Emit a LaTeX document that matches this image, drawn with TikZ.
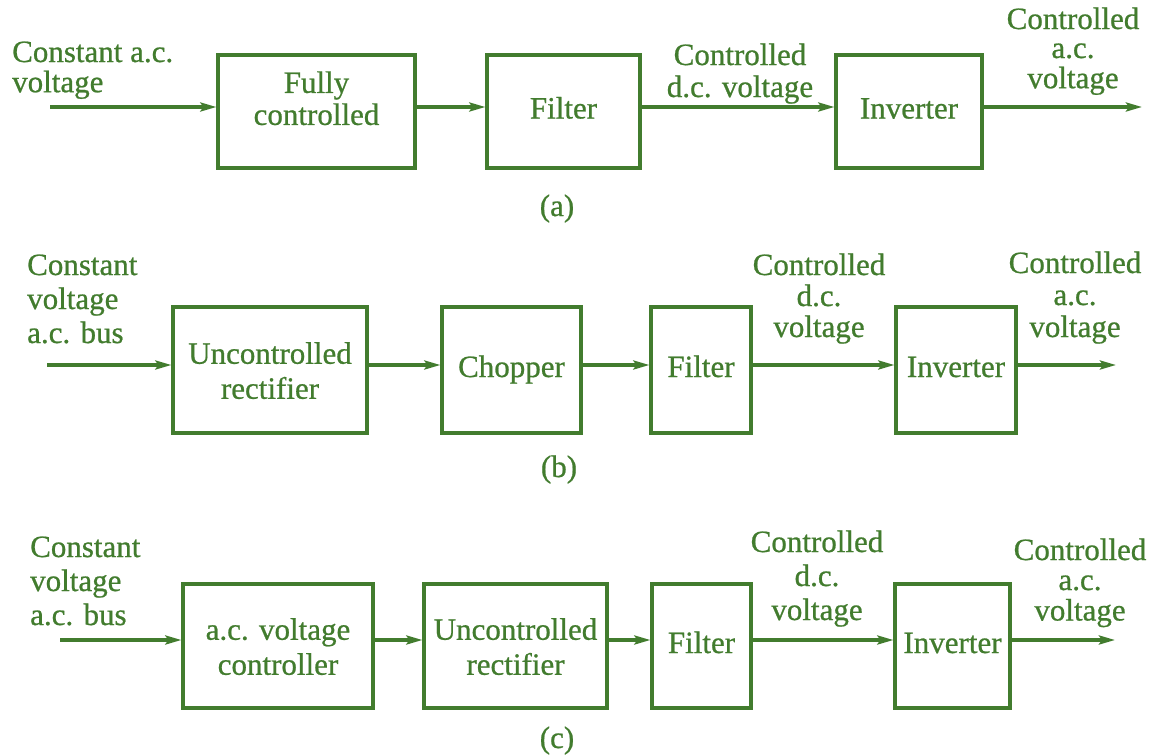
\documentclass[tikz,border=0pt]{standalone}
\usepackage{fontspec}
\setmainfont[FakeBold=0.7]{Liberation Serif}
\usetikzlibrary{arrows.meta}
\definecolor{grn}{RGB}{66,124,46}
\newcommand{\lbl}[3]{\fontsize{31}{#2}\selectfont\begin{tabular}[t]{@{}#1@{}}#3\end{tabular}}
\tikzset{
  blk/.style={draw=grn, line width=3.2pt, inner sep=0pt, text=grn,
              font=\fontsize{31}{35}\selectfont},
  one/.style={text height=21pt, text depth=7pt},
  two/.style={text height=24.5pt, text depth=37pt},
  lab/.style={inner sep=0pt, text=grn, font=\fontsize{31}{35}\selectfont},
  arr/.style={draw=grn, line width=3.2pt, -{Stealth[length=16pt,width=9pt,inset=3pt]}},
}
\begin{document}
\begin{tikzpicture}[x=1pt,y=-1pt]
\useasboundingbox (0,0) rectangle (1152,755);
\fill[white] (0,0) rectangle (1152,755);

% ---------- row (a) ----------
\node[blk, minimum width=197pt, minimum height=113pt, text height=22.4pt, text depth=59.6pt]
  (A1) at (316.5,111.5) {\lbl{c}{32}{Fully\\controlled}};
\node[blk, one, minimum width=153pt, minimum height=113pt] (A2) at (563.5,111.5) {Filter};
\node[blk, one, minimum width=146pt, minimum height=113pt] (A3) at (909,111.5) {Inverter};
\coordinate (ain) at (50,107);
\coordinate (aout) at (1142,107);
\draw[arr] (ain) -- ([yshift=4.5pt]A1.west);
\draw[arr] ([yshift=4.5pt]A1.east) -- ([yshift=4.5pt]A2.west);
\draw[arr] ([yshift=4.5pt]A2.east) -- ([yshift=4.5pt]A3.west);
\draw[arr] ([yshift=4.5pt]A3.east) -- (aout);
\node[lab, anchor=base west] (ainl) at (12,62) {\lbl{l}{29}{Constant a.c.\\voltage}};
\node[lab, anchor=base] (adcl) at (740,65) {\lbl{c}{32}{Controlled\\d.c. voltage}};
\node[lab, anchor=base] (aoutl) at (1073,29) {\lbl{c}{29}{Controlled\\a.c.\\voltage}};
\node[lab, anchor=base] (capa) at (557,216) {(a)};

% ---------- row (b) ----------
\node[blk, two, minimum width=194pt, minimum height=126pt] (B1) at (270,370) {\lbl{c}{35}{Uncontrolled\\rectifier}};
\node[blk, one, minimum width=139pt, minimum height=126pt] (B2) at (511.5,370) {Chopper};
\node[blk, one, minimum width=100pt, minimum height=126pt] (B3) at (701,370) {Filter};
\node[blk, one, minimum width=120pt, minimum height=126pt] (B4) at (956,370) {Inverter};
\coordinate (bin) at (47,365);
\coordinate (bout) at (1116,365);
\draw[arr] (bin) -- ([yshift=5pt]B1.west);
\draw[arr] ([yshift=5pt]B1.east) -- ([yshift=5pt]B2.west);
\draw[arr] ([yshift=5pt]B2.east) -- ([yshift=5pt]B3.west);
\draw[arr] ([yshift=5pt]B3.east) -- ([yshift=5pt]B4.west);
\draw[arr] ([yshift=5pt]B4.east) -- (bout);
\node[lab, anchor=base west] (binl) at (27,275) {\lbl{l}{34}{Constant\\voltage\\a.c. bus}};
\node[lab, anchor=base] (bdcl) at (819,275) {\lbl{c}{31}{Controlled\\d.c.\\voltage}};
\node[lab, anchor=base] (boutl) at (1075,273) {\lbl{c}{32}{Controlled\\a.c.\\voltage}};
\node[lab, anchor=base] (capb) at (559,477) {(b)};

% ---------- row (c) ----------
\node[blk, two, minimum width=190pt, minimum height=124pt] (C1) at (278,646) {\lbl{c}{35}{a.c. voltage\\controller}};
\node[blk, two, minimum width=183pt, minimum height=124pt] (C2) at (515.5,646) {\lbl{c}{35}{Uncontrolled\\rectifier}};
\node[blk, one, minimum width=99pt, minimum height=124pt] (C3) at (701.5,646) {Filter};
\node[blk, one, minimum width=115pt, minimum height=124pt] (C4) at (952.5,646) {Inverter};
\coordinate (cin) at (60,640);
\coordinate (cout) at (1115,640);
\draw[arr] (cin) -- ([yshift=6pt]C1.west);
\draw[arr] ([yshift=6pt]C1.east) -- ([yshift=6pt]C2.west);
\draw[arr] ([yshift=6pt]C2.east) -- ([yshift=6pt]C3.west);
\draw[arr] ([yshift=6pt]C3.east) -- ([yshift=6pt]C4.west);
\draw[arr] ([yshift=6pt]C4.east) -- (cout);
\node[lab, anchor=base west] (cinl) at (30,557) {\lbl{l}{34}{Constant\\voltage\\a.c. bus}};
\node[lab, anchor=base] (cdcl) at (817,552) {\lbl{c}{34}{Controlled\\d.c.\\voltage}};
\node[lab, anchor=base] (coutl) at (1080,560) {\lbl{c}{30}{Controlled\\a.c.\\voltage}};
\node[lab, anchor=base] (capc) at (557,748) {(c)};
\end{tikzpicture}
\end{document}
